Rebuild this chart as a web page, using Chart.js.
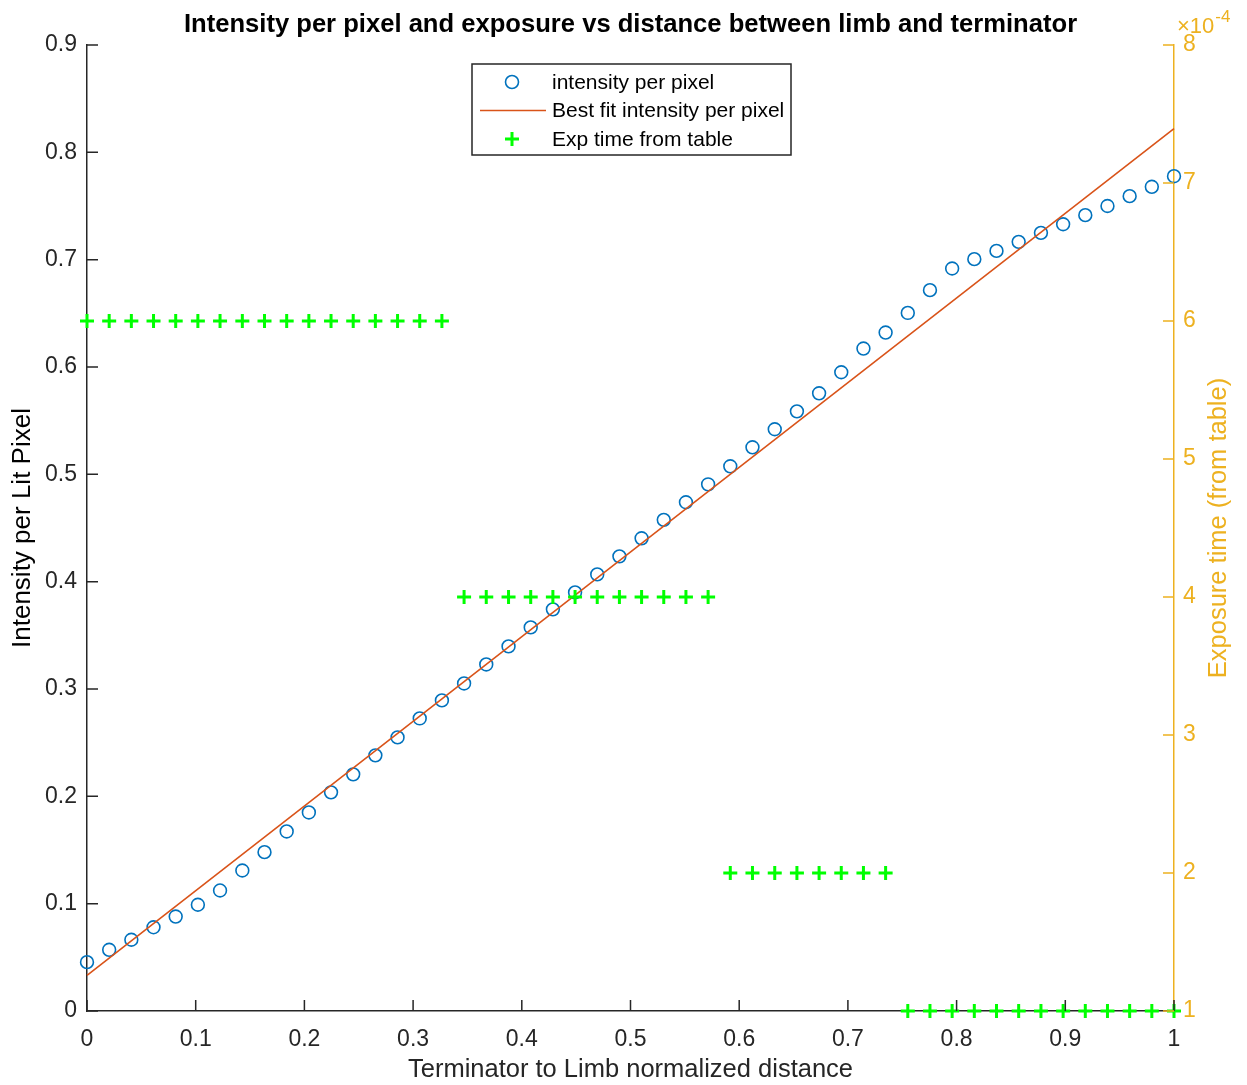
<!DOCTYPE html>
<html><head><meta charset="utf-8">
<script src="https://cdn.jsdelivr.net/npm/chart.js@4.4.1/dist/chart.umd.min.js"></script>
<style>html,body{margin:0;padding:0;background:#fff;}#wrap{width:1247px;height:1085px;}</style>
</head><body><div id="wrap"><canvas id="c" width="1247" height="1085"></canvas></div>
<script>
// ---- data ----
const distance = [0, 0.0204, 0.0408, 0.0612, 0.0816, 0.1020, 0.1224, 0.1429, 0.1633, 0.1837,
  0.2041, 0.2245, 0.2449, 0.2653, 0.2857, 0.3061, 0.3265, 0.3469, 0.3673, 0.3878,
  0.4082, 0.4286, 0.4490, 0.4694, 0.4898, 0.5102, 0.5306, 0.5510, 0.5714, 0.5918,
  0.6122, 0.6327, 0.6531, 0.6735, 0.6939, 0.7143, 0.7347, 0.7551, 0.7755, 0.7959,
  0.8163, 0.8367, 0.8571, 0.8776, 0.8980, 0.9184, 0.9388, 0.9592, 0.9796, 1];
const intensity = [0.0455, 0.057, 0.0664, 0.078, 0.088, 0.099, 0.1123, 0.1309, 0.148, 0.1673,
  0.185, 0.2037, 0.2205, 0.2382, 0.2549, 0.2726, 0.2894, 0.3052, 0.3229, 0.3397,
  0.3574, 0.3742, 0.390, 0.4068, 0.4236, 0.4404, 0.4576, 0.474, 0.4907, 0.5075,
  0.5252, 0.542, 0.5587, 0.5755, 0.5951, 0.6172, 0.6321, 0.6504, 0.6716, 0.6918,
  0.7005, 0.7082, 0.7166, 0.725, 0.733, 0.7415, 0.750, 0.7592, 0.7679, 0.7778];
const fitX = [0, 1];
const fitY = [0.0332, 0.822];
const expTime = [6e-4, 6e-4, 6e-4, 6e-4, 6e-4, 6e-4, 6e-4, 6e-4, 6e-4, 6e-4,
  6e-4, 6e-4, 6e-4, 6e-4, 6e-4, 6e-4, 6e-4, 4e-4, 4e-4, 4e-4,
  4e-4, 4e-4, 4e-4, 4e-4, 4e-4, 4e-4, 4e-4, 4e-4, 4e-4, 2e-4,
  2e-4, 2e-4, 2e-4, 2e-4, 2e-4, 2e-4, 2e-4, 1e-4, 1e-4, 1e-4,
  1e-4, 1e-4, 1e-4, 1e-4, 1e-4, 1e-4, 1e-4, 1e-4, 1e-4, 1e-4];
const xTicks = [0, 0.1, 0.2, 0.3, 0.4, 0.5, 0.6, 0.7, 0.8, 0.9, 1];
const leftTicks = [0, 0.1, 0.2, 0.3, 0.4, 0.5, 0.6, 0.7, 0.8, 0.9];
const rightTicks = [1e-4, 2e-4, 3e-4, 4e-4, 5e-4, 6e-4, 7e-4, 8e-4];
const rightTickLabels = ['1', '2', '3', '4', '5', '6', '7', '8'];
const titleText = 'Intensity per pixel and exposure vs distance between limb and terminator';
const xLabel = 'Terminator to Limb normalized distance';
const yLabel = 'Intensity per Lit Pixel';
const y2Label = 'Exposure time (from table)';
const legendLabels = ['intensity per pixel', 'Best fit intensity per pixel', 'Exp time from table'];

// ---- styles ----
const FONT = "'Liberation Sans', Arial, Helvetica, sans-serif";
const AX = '#262626';
const GOLD = '#EDB120';
const BLUE = '#0072BD';
const ORANGE = '#D95319';
const GREEN = '#00FF00';

const fmt = v => String(Math.round(v * 10) / 10);

const extras = {
  id: 'extras',
  afterDraw(chart) {
    const ctx = chart.ctx;
    const ca = chart.chartArea;
    const sx = chart.scales.x, sy = chart.scales.y, sy2 = chart.scales.y2;
    ctx.save();
    // inward ticks
    ctx.lineWidth = 1.5;
    ctx.strokeStyle = AX;
    ctx.beginPath();
    leftTicks.forEach(v => { const p = sy.getPixelForValue(v); ctx.moveTo(ca.left, p); ctx.lineTo(ca.left + 11, p); });
    xTicks.forEach(v => { const p = sx.getPixelForValue(v); ctx.moveTo(p, ca.bottom); ctx.lineTo(p, ca.bottom - 11); });
    ctx.stroke();
    ctx.strokeStyle = GOLD;
    ctx.beginPath();
    rightTicks.forEach(v => { const p = sy2.getPixelForValue(v); ctx.moveTo(ca.right, p); ctx.lineTo(ca.right - 11, p); });
    ctx.stroke();
    // exponent label
    ctx.fillStyle = GOLD;
    ctx.textBaseline = 'alphabetic';
    ctx.textAlign = 'left';
    ctx.font = '22px ' + FONT;
    const ex = ca.right + 3, ey = 33;
    ctx.fillText('\u00d710', ex, ey);
    const w = ctx.measureText('\u00d710').width;
    ctx.font = '17px ' + FONT;
    ctx.fillText('-4', ex + w + 1, ey - 11);
    // right axis title (reads bottom to top)
    ctx.save();
    ctx.translate(1219, (ca.top + ca.bottom) / 2);
    ctx.rotate(-Math.PI / 2);
    ctx.textAlign = 'center';
    ctx.textBaseline = 'middle';
    ctx.font = '25.5px ' + FONT;
    ctx.fillText(y2Label, 0, 0);
    ctx.restore();
    // legend
    const bx = 472, by = 64, bw = 319, bh = 91;
    ctx.fillStyle = '#fff';
    ctx.fillRect(bx, by, bw, bh);
    ctx.strokeStyle = AX;
    ctx.lineWidth = 1.5;
    ctx.strokeRect(bx, by, bw, bh);
    const rows = [82, 110.5, 139];
    const mx = 512, tx = 552;
    ctx.strokeStyle = BLUE; ctx.lineWidth = 1.6;
    ctx.beginPath(); ctx.arc(mx, rows[0], 6.5, 0, Math.PI * 2); ctx.stroke();
    ctx.strokeStyle = ORANGE; ctx.lineWidth = 1.5;
    ctx.beginPath(); ctx.moveTo(480, rows[1]); ctx.lineTo(546, rows[1]); ctx.stroke();
    ctx.strokeStyle = GREEN; ctx.lineWidth = 3;
    ctx.beginPath(); ctx.moveTo(mx - 7, rows[2]); ctx.lineTo(mx + 7, rows[2]); ctx.moveTo(mx, rows[2] - 7); ctx.lineTo(mx, rows[2] + 7); ctx.stroke();
    ctx.fillStyle = '#000';
    ctx.font = '21px ' + FONT;
    ctx.textAlign = 'left';
    ctx.textBaseline = 'middle';
    legendLabels.forEach((t, i) => ctx.fillText(t, tx, rows[i] + 1));
    ctx.restore();
  }
};

new Chart(document.getElementById('c'), {
  type: 'scatter',
  data: {
    datasets: [
      {
        label: legendLabels[0],
        data: distance.map((d, i) => ({ x: d, y: intensity[i] })),
        yAxisID: 'y',
        showLine: false,
        pointStyle: 'circle',
        pointRadius: 6.4,
        pointBorderWidth: 1.6,
        borderColor: BLUE,
        backgroundColor: 'rgba(0,0,0,0)',
        pointBackgroundColor: 'rgba(0,0,0,0)',
        pointBorderColor: BLUE,
        clip: false,
        order: 3
      },
      {
        label: legendLabels[1],
        data: fitX.map((d, i) => ({ x: d, y: fitY[i] })),
        yAxisID: 'y',
        showLine: true,
        pointRadius: 0,
        borderColor: ORANGE,
        borderWidth: 1.6,
        fill: false,
        clip: false,
        order: 2
      },
      {
        label: legendLabels[2],
        data: distance.map((d, i) => ({ x: d, y: expTime[i] })),
        yAxisID: 'y2',
        showLine: false,
        pointStyle: 'cross',
        pointRadius: 7,
        pointBorderWidth: 3,
        borderColor: GREEN,
        pointBorderColor: GREEN,
        backgroundColor: GREEN,
        clip: false,
        order: 1
      }
    ]
  },
  options: {
    responsive: false,
    animation: false,
    devicePixelRatio: 1,
    layout: { padding: 0 },
    plugins: {
      legend: { display: false },
      tooltip: { enabled: false },
      title: {
        display: true,
        text: titleText,
        fullSize: false,
        color: '#000',
        font: { family: FONT, size: 25.6, weight: 'bold', lineHeight: 1.2 },
        padding: { top: 10, bottom: 4.3 }
      }
    },
    scales: {
      x: {
        type: 'linear', position: 'bottom', min: 0, max: 1,
        afterBuildTicks: s => { s.ticks = xTicks.map(v => ({ value: v })); },
        afterFit: s => { s.height = 74; },
        grid: { display: false, drawTicks: false },
        border: { display: true, color: AX, width: 1.5 },
        ticks: { color: AX, font: { family: FONT, size: 23 }, padding: 15, maxRotation: 0, autoSkip: false, callback: v => fmt(v) },
        title: { display: true, text: xLabel, color: AX, font: { family: FONT, size: 25.5, lineHeight: 1.2 }, padding: { top: 0, bottom: 0 } }
      },
      y: {
        type: 'linear', position: 'left', min: 0, max: 0.9,
        afterBuildTicks: s => { s.ticks = leftTicks.map(v => ({ value: v })); },
        afterFit: s => { s.width = 87; },
        grid: { display: false, drawTicks: false },
        border: { display: true, color: AX, width: 1.5 },
        ticks: { color: AX, font: { family: FONT, size: 23 }, padding: 10, autoSkip: false, callback: v => fmt(v) },
        title: { display: true, text: yLabel, color: '#000', font: { family: FONT, size: 26, lineHeight: 1.2 }, padding: { top: 7, bottom: 0 } }
      },
      y2: {
        type: 'linear', position: 'right', min: 1e-4, max: 8e-4,
        afterBuildTicks: s => { s.ticks = rightTicks.map(v => ({ value: v })); },
        afterFit: s => { s.width = 73; },
        grid: { display: false, drawTicks: false },
        border: { display: true, color: GOLD, width: 1.5 },
        ticks: { color: GOLD, font: { family: FONT, size: 23 }, padding: 9, autoSkip: false,
          callback: (v, i) => rightTickLabels[i] },
        title: { display: false }
      }
    }
  },
  plugins: [extras]
});
</script>
</body></html>
